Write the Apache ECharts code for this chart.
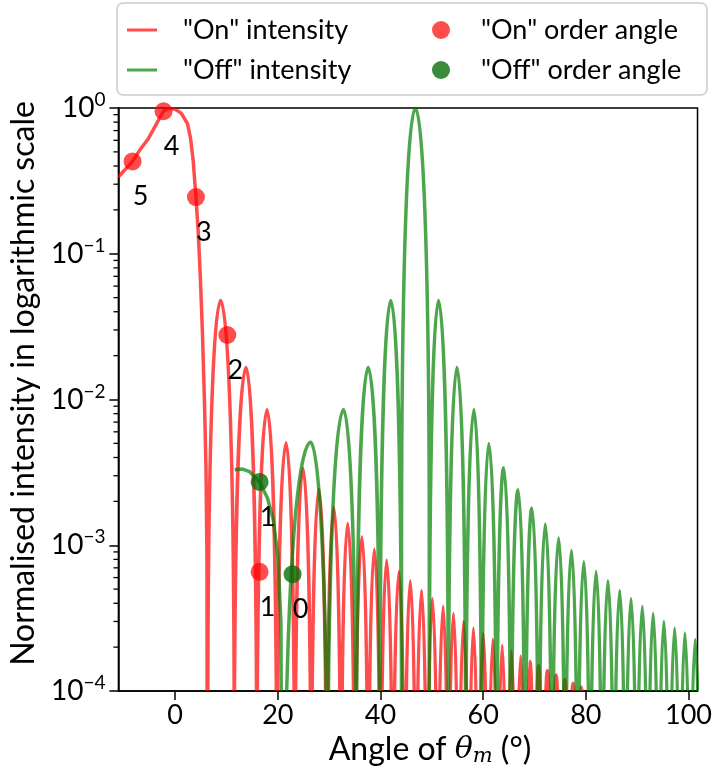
<!DOCTYPE html>
<html>
<head>
<meta charset="utf-8">
<script src="https://cdn.jsdelivr.net/npm/echarts@6/dist/echarts.min.js"></script>
<style>
  html, body { margin: 0; padding: 0; background: #fff; }
  #chart { width: 715px; height: 775px; }
</style>
</head>
<body>
<div id="chart"></div>
<script>
// ---- "On" intensity: sampled main lobe, then side lobes (peak + zeros on each side) ----
const onMainAngles = [-11.1, -9.7, -8.3, -6.8, -5.3, -3.8, -2.3, -1.2, 0.0, 1.2, 2.4, 3.0, 3.5, 4.05, 4.5, 4.9, 5.3, 5.7, 6.0, 6.2];
const onMainValues = [0.335, 0.38, 0.43, 0.52, 0.61, 0.76, 0.95, 1.0, 0.98, 0.92, 0.78, 0.62, 0.44, 0.245, 0.14, 0.07, 0.03, 0.01, 0.0035, 0.0008];
const onZeroAngles = [6.35, 11.5, 15.9, 19.8, 23.3, 26.5, 29.5, 32.3, 35.0, 37.6, 40.0, 42.4, 44.7, 46.9,
  49.05, 51.15, 53.2, 55.2, 57.15, 59.05, 60.95, 62.8, 64.6, 66.4, 68.2, 69.95, 71.65, 73.35, 75.05, 76.7, 78.3, 79.9];
const onPeakAngles = [8.85, 13.8, 17.9, 21.6, 24.9, 28.0, 30.9, 33.6, 36.4, 38.8, 41.2, 43.6, 45.8,
  48.0, 50.1, 52.2, 54.2, 56.2, 58.1, 60.0, 61.9, 63.7, 65.5, 67.3, 69.1, 70.8, 72.5, 74.2, 75.9, 77.5, 79.1];
const onPeakValues = [0.0477, 0.0166, 0.0085, 0.00505, 0.00337, 0.00242, 0.00182, 0.00141, 0.00114, 0.00094,
  0.00079, 0.00066, 0.00057, 0.00049, 0.00043, 0.00038, 0.00034, 0.00030, 0.00027, 0.00025, 0.000226,
  0.000206, 0.000189, 0.000174, 0.00016, 0.000149, 0.000138, 0.000129, 0.00012, 0.000113, 0.000106];

// ---- "Off" intensity: sampled start, then lobes (the 1.0 peak is the main lobe) ----
const offHeadAngles = [11.6, 13.0, 14.5, 16.45, 18.0, 19.1, 20.0, 20.6];
const offHeadValues = [0.0033, 0.00334, 0.0032, 0.00272, 0.0021, 0.0015, 0.00085, 0.0003];
const offZeroAngles = [21.35, 29.7, 35.3, 39.9, 44.1, 49.5, 53.2, 56.6, 59.7, 62.6, 65.4, 68.15, 70.8, 73.4,
  75.95, 78.4, 80.8, 83.15, 85.45, 87.7, 89.9, 92.05, 94.15, 96.25, 98.3, 100.3, 102.3];
const offPeakAngles = [26.4, 32.8, 37.6, 42.0, 46.8, 51.3, 54.9, 58.2, 61.1, 64.0, 66.8, 69.5, 72.1, 74.7,
  77.2, 79.6, 82.0, 84.3, 86.6, 88.8, 91.0, 93.1, 95.2, 97.3, 99.3, 101.3];
const offPeakValues = [0.00508, 0.0085, 0.0166, 0.0477, 1.0, 0.0477, 0.0166, 0.0085, 0.0050, 0.0034, 0.0024,
  0.0018, 0.0014, 0.00112, 0.00092, 0.00077, 0.00066, 0.00057, 0.00049, 0.00043, 0.00038, 0.00034, 0.0003,
  0.00027, 0.00025, 0.000226];

// ---- diffraction-order markers ----
const onOrderAngles = [-8.3, -2.26, 4.05, 10.16, 16.45];
const onOrderValues = [0.43, 0.95, 0.245, 0.0277, 0.000657];
const onOrderNumbers = ['5', '4', '3', '2', '1'];
const offOrderAngles = [16.45, 22.88];
const offOrderValues = [0.00272, 0.000633];
const offOrderNumbers = ['1', '0'];

// ---- axis ticks ----
const xTickValues = [0, 20, 40, 60, 80, 100];
const yTickValues = [1e-4, 1e-3, 1e-2, 1e-1, 1];
const yMinorTickValues = [];
[1e-4, 1e-3, 1e-2, 1e-1].forEach(function (d) {
  [2, 3, 4, 5, 6, 7, 8, 9].forEach(function (m) { yMinorTickValues.push(+(d * m).toPrecision(3)); });
});

const FONT = 'Lato';
const RED_LINE = 'rgba(255,0,0,0.7)';
const GREEN_LINE = 'rgba(0,128,0,0.7)';
const RED_DOT = 'rgba(255,0,0,0.7)';
const GREEN_DOT = 'rgba(10,110,10,0.8)';
const X_MIN = -11.05, X_MAX = 101.75;
const DEEP = 1e-9;          // stand-in for zero intensity on the log axis (far below the plot)

// Lobe stroke shape (pixels): horizontal tangent at the peak, vertical fall into each zero.
const LOBE_TOP = 0.4, LOBE_KNEE = 100, LOBE_DROP = 437;

function lobe(api, d, zl, pa, pv, zr) {
  const L = api.coord([zl, pv]), P = api.coord([pa, pv]), R = api.coord([zr, pv]);
  const deepY = api.coord([pa, DEEP])[1];
  const w1 = P[0] - L[0], w2 = R[0] - P[0], y = P[1];
  d.push('L', L[0], Math.min(deepY, y + LOBE_DROP));
  d.push('C', L[0], y + LOBE_KNEE, P[0] - LOBE_TOP * w1, y, P[0], y);
  d.push('C', P[0] + LOBE_TOP * w2, y, R[0], y + LOBE_KNEE, R[0], Math.min(deepY, y + LOBE_DROP));
  d.push('L', R[0], deepY);
}

function sampled(api, d, angles, values, first) {
  angles.forEach(function (a, i) {
    const p = api.coord([a, values[i]]);
    d.push(first && i === 0 ? 'M' : 'L', p[0], p[1]);
  });
}

function onCurvePath(api) {
  const d = [];
  sampled(api, d, onMainAngles, onMainValues, true);
  const z0 = api.coord([onZeroAngles[0], DEEP]);
  d.push('L', z0[0], z0[1]);
  onPeakAngles.forEach(function (a, i) {
    lobe(api, d, onZeroAngles[i], a, onPeakValues[i], onZeroAngles[i + 1]);
  });
  return d.join(' ');
}

function offCurvePath(api) {
  const d = [];
  sampled(api, d, offHeadAngles, offHeadValues, true);
  const z0 = api.coord([offZeroAngles[0], DEEP]);
  d.push('L', z0[0], z0[1]);
  offPeakAngles.forEach(function (a, i) {
    lobe(api, d, offZeroAngles[i], a, offPeakValues[i], offZeroAngles[i + 1]);
  });
  return d.join(' ');
}

function curveSeries(name, color, builder, z) {
  return {
    name: name, type: 'custom', coordinateSystem: 'cartesian2d', clip: true, z: z,
    data: [[0, 1]],
    itemStyle: { color: color },
    renderItem: function (params, api) {
      return {
        type: 'path',
        shape: { pathData: builder(api) },
        style: { fill: 'none', stroke: color, lineWidth: 3.5, lineJoin: 'round' }
      };
    }
  };
}

const chart = echarts.init(document.getElementById('chart'), null, { renderer: 'canvas' });

const LINE_ICON = 'path://M0,0H10V1H0Z';
const option = {
  animation: false,
  backgroundColor: '#fff',
  textStyle: { fontFamily: FONT },
  grid: {
    left: 117, right: 13, top: 108, bottom: 84,
    show: true, borderColor: '#000', borderWidth: 1.5, backgroundColor: 'transparent'
  },
  legend: [
    {
      left: 117, top: 3,
      orient: 'vertical',
      padding: [12, 10, 10, 10],
      borderColor: '#cccccc', borderWidth: 1.5, borderRadius: 6,
      itemWidth: 30, itemHeight: 18, itemGap: 10,
      textStyle: { fontFamily: FONT, fontSize: 27, color: '#000', lineHeight: 30, width: 514, padding: [0, 0, 0, 21] },
      data: [
        { name: '"On" intensity', icon: LINE_ICON },
        { name: '"Off" intensity', icon: LINE_ICON }
      ]
    },
    {
      left: 432, top: 15,
      orient: 'vertical',
      padding: 0,
      itemWidth: 30, itemHeight: 18, itemGap: 10,
      textStyle: { fontFamily: FONT, fontSize: 27, color: '#000', lineHeight: 30, padding: [0, 0, 0, 20] },
      data: [
        { name: '"On" order angle', icon: 'circle' },
        { name: '"Off" order angle', icon: 'circle' }
      ]
    }
  ],
  xAxis: {
    type: 'value', min: X_MIN, max: X_MAX,
    name: '{t|Angle of }{i|θ}{s|m}{t| (°)}',
    nameLocation: 'middle', nameGap: 38,
    nameTextStyle: {
      padding: [0, 0, 0, 44],
      rich: {
        t: { fontFamily: FONT, fontSize: 32, color: '#000' },
        i: { fontFamily: 'DejaVu Serif', fontStyle: 'italic', fontSize: 30, color: '#000' },
        s: { fontFamily: 'DejaVu Serif', fontStyle: 'italic', fontSize: 21, color: '#000', padding: [14, 0, 0, 0] }
      }
    },
    axisLine: { show: true, onZero: false, lineStyle: { color: '#000', width: 1.5 } },
    axisTick: { show: true, inside: false, length: 9, lineStyle: { color: '#000', width: 1.5 }, customValues: xTickValues },
    axisLabel: { show: true, margin: 11, fontFamily: FONT, fontSize: 27, color: '#000', customValues: xTickValues },
    splitLine: { show: false }
  },
  yAxis: {
    type: 'log', logBase: 10, min: 1e-4, max: 1,
    name: 'Normalised intensity in logarithmic scale',
    nameLocation: 'middle', nameRotate: 90, nameGap: 71,
    nameTextStyle: { fontFamily: FONT, fontSize: 32, color: '#000', padding: [0, 0, 0, 32] },
    axisLine: { show: true, onZero: false, lineStyle: { color: '#000', width: 1.5 } },
    axisTick: { show: true, inside: false, length: 9, lineStyle: { color: '#000', width: 1.5 }, customValues: yTickValues },
    axisLabel: {
      show: true, margin: 13, customValues: yTickValues,
      formatter: function (v) {
        const e = Math.round(Math.log10(v));
        return '{b|10}{s|' + (e < 0 ? '\u2212' + (-e) : e) + '}';
      },
      rich: {
        b: { fontFamily: FONT, fontSize: 28, color: '#000' },
        s: { fontFamily: FONT, fontSize: 19, color: '#000', padding: [0, 0, 16, 0] }
      }
    },
    splitLine: { show: false }
  },
  series: [
    curveSeries('"On" intensity', RED_LINE, onCurvePath, 2),
    curveSeries('"Off" intensity', GREEN_LINE, offCurvePath, 3),
    {
      name: '"On" order angle', type: 'scatter', symbol: 'circle', symbolSize: 18,
      data: onOrderAngles.map(function (a, i) { return [a, onOrderValues[i]]; }),
      itemStyle: { color: RED_DOT, opacity: 1 },
      label: {
        show: true, position: 'inside', offset: [8, 35],
        formatter: function (p) { return onOrderNumbers[p.dataIndex]; },
        fontFamily: FONT, fontSize: 27, color: '#000'
      },
      clip: false, z: 5
    },
    {
      name: '"Off" order angle', type: 'scatter', symbol: 'circle', symbolSize: 18,
      data: offOrderAngles.map(function (a, i) { return [a, offOrderValues[i]]; }),
      itemStyle: { color: GREEN_DOT, opacity: 1 },
      label: {
        show: true, position: 'inside', offset: [8, 35],
        formatter: function (p) { return offOrderNumbers[p.dataIndex]; },
        fontFamily: FONT, fontSize: 27, color: '#000'
      },
      clip: false, z: 5
    },
    {
      // minor ticks of the logarithmic axis
      type: 'custom', silent: true, clip: false, z: 10,
      data: yMinorTickValues.map(function (v) { return [X_MIN, v]; }),
      renderItem: function (params, api) {
        const p = api.coord([X_MIN, api.value(1)]);
        return {
          type: 'line',
          shape: { x1: p[0] - 5, y1: p[1], x2: p[0], y2: p[1] },
          style: { stroke: '#000', lineWidth: 1.3 }
        };
      }
    }
  ]
};

chart.setOption(option);
</script>
</body>
</html>
